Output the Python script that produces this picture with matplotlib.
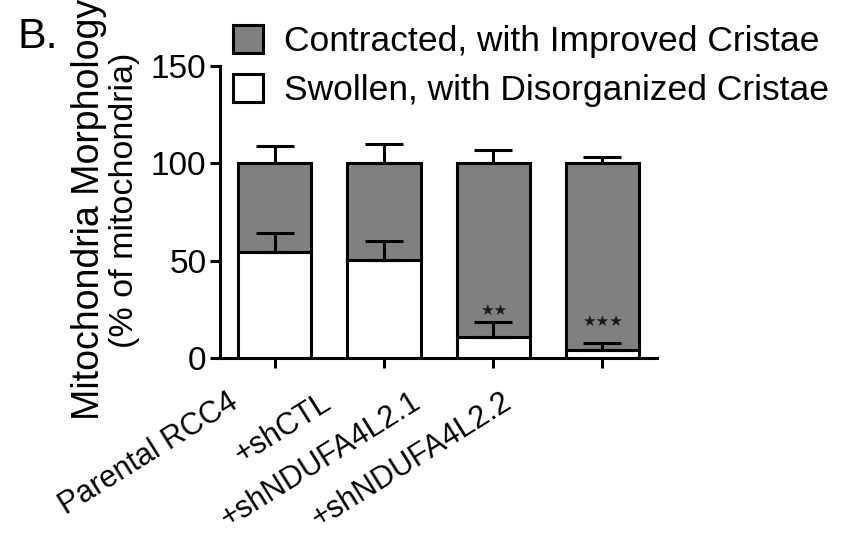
import numpy as np
import matplotlib.pyplot as plt
from matplotlib.patches import Patch
from matplotlib.transforms import ScaledTranslation

plt.rcParams['font.family'] = ['Liberation Sans', 'DejaVu Sans']

# Mitochondria morphology data (% of mitochondria)
groups = ["Parental RCC4", "+shCTL", "+shNDUFA4L2.1", "+shNDUFA4L2.2"]
swollen = np.array([54.5, 50.3, 11.0, 4.0])
swollen_err = np.array([9.5, 9.7, 7.3, 3.7])
contracted = 100 - swollen
total_err = np.array([9.0, 10.0, 7.0, 3.5])
stars = ["", "", "\u2605\u2605", "\u2605\u2605\u2605"]
star_y = [0, 0, 20.5, 15.0]

lw = 2.2
fig = plt.figure(figsize=(8.41, 5.5), dpi=100)
ax = fig.add_axes([0.262, 0.349, 0.519, 0.531])

x = np.arange(len(groups))
w = 0.67

ax.bar(x, swollen, w, color='white', edgecolor='black', linewidth=lw, zorder=2)
ax.bar(x, contracted, w, bottom=swollen, color='#808080', edgecolor='black',
       linewidth=lw, zorder=2)

# upward-only error bars
ax.errorbar(x, swollen, yerr=[np.zeros(4), swollen_err], fmt='none',
            ecolor='black', elinewidth=lw, capsize=14, capthick=lw, zorder=3)
ax.errorbar(x, swollen + contracted, yerr=[np.zeros(4), total_err], fmt='none',
            ecolor='black', elinewidth=lw, capsize=14, capthick=lw, zorder=3)

for xi, s, sy in zip(x, stars, star_y):
    if s:
        ax.text(xi, sy, s, ha='center', va='bottom', fontsize=11,
                family='DejaVu Sans', color='#1a1a1a', zorder=4)

ax.set_xlim(-0.5, 3.5)
ax.set_ylim(0, 150)
ax.set_yticks([0, 50, 100, 150])
ax.set_xticks(x)
ax.set_xticklabels([])

# rotated group labels, shifted left as in the original panel
shifts = [34, 46, 60, 73]
for xi, name, s in zip(x, groups, shifts):
    tr = ax.get_xaxis_transform() + ScaledTranslation(-s / 72, -21 / 72,
                                                      fig.dpi_scale_trans)
    ax.text(xi, 0, name, transform=tr, rotation=32, ha='right', va='top',
            rotation_mode='anchor', fontsize=22)

ax.tick_params(axis='both', width=lw, length=7, labelsize=24, color='black')
ax.tick_params(axis='y', pad=3)
for side in ['top', 'right']:
    ax.spines[side].set_visible(False)
for side in ['left', 'bottom']:
    ax.spines[side].set_linewidth(lw)

# y label: two lines, the first one in a larger size
fig.text(0.127, 0.62, "Mitochondria Morphology", rotation=90, ha='right',
         va='center', fontsize=27)
fig.text(0.1665, 0.635, "(% of mitochondria)", rotation=90, ha='right',
         va='center', fontsize=24.5)

handles = [Patch(facecolor='#808080', edgecolor='black', linewidth=lw,
                 label='Contracted, with Improved Cristae'),
           Patch(facecolor='white', edgecolor='black', linewidth=lw,
                 label='Swollen, with Disorganized Cristae')]
fig.legend(handles=handles, loc='upper left', bbox_to_anchor=(0.277, 0.955),
           frameon=False, fontsize=25.5, handlelength=0.85, handleheight=0.85,
           handletextpad=0.6, labelspacing=0.45, borderpad=0, borderaxespad=0)

fig.text(0.021, 0.97, "B.", fontsize=31, va='top', ha='left')

fig.savefig('out.png', dpi=100)
